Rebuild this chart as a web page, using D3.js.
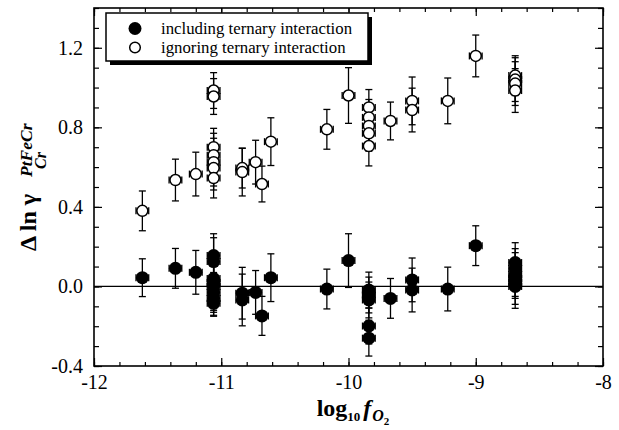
<!DOCTYPE html>
<html>
<head>
<meta charset="utf-8">
<script src="https://cdn.jsdelivr.net/npm/d3@7"></script>
<style>
  html, body { margin: 0; padding: 0; background: #fff; }
  svg { display: block; }
  text { font-family: "Liberation Serif", "Times New Roman", serif; fill: #000; }
</style>
</head>
<body>
<svg id="chart" width="619" height="430"></svg>
<script>
// log10 fO2 and Δ ln γ with ternary interaction included
const incX = [-11.62, -11.36, -11.20,
  -11.06, -11.06, -11.06, -11.06, -11.06, -11.06, -11.06, -11.06,
  -10.835, -10.835, -10.73, -10.68, -10.61, -10.17, -10.0,
  -9.84, -9.84, -9.84, -9.84, -9.84, -9.67, -9.50, -9.50, -9.22, -9.0,
  -8.69, -8.69, -8.69, -8.69, -8.69, -8.69];
const incY = [0.044, 0.091, 0.071,
  0.155, 0.125, 0.04, 0.02, 0.0, -0.03, -0.06, -0.085,
  -0.034, -0.068, -0.03, -0.148, 0.044, -0.013, 0.13,
  -0.018, -0.043, -0.068, -0.199, -0.26, -0.06, 0.033, -0.018, -0.013, 0.205,
  0.12, 0.09, 0.06, 0.04, 0.02, 0.0];
const incErr = [0.095, 0.10, 0.11,
  0.11, 0.12, 0.10, 0.11, 0.12, 0.10, 0.09, 0.06,
  0.13, 0.13, 0.11, 0.098, 0.12, 0.10, 0.135,
  0.09, 0.09, 0.09, 0.09, 0.09, 0.10, 0.11, 0.11, 0.11, 0.10,
  0.10, 0.10, 0.11, 0.10, 0.11, 0.11];

// the same runs with the ternary interaction ignored
const ignX = [-11.62, -11.36, -11.20,
  -11.06, -11.06, -11.06, -11.06, -11.06, -11.06, -11.06,
  -10.835, -10.835, -10.73, -10.68, -10.61, -10.17, -10.0,
  -9.84, -9.84, -9.84, -9.84, -9.84, -9.67, -9.50, -9.50, -9.22, -9.0,
  -8.69, -8.69, -8.69, -8.69];
const ignY = [0.38, 0.535, 0.565,
  0.985, 0.955, 0.70, 0.66, 0.625, 0.595, 0.545,
  0.595, 0.575, 0.625, 0.515, 0.728, 0.79, 0.96,
  0.90, 0.85, 0.807, 0.77, 0.706, 0.832, 0.933, 0.887, 0.933, 1.159,
  1.06, 1.04, 1.02, 0.985];
const ignErr = [0.10, 0.105, 0.11,
  0.09, 0.09, 0.095, 0.11, 0.12, 0.11, 0.10,
  0.10, 0.12, 0.11, 0.09, 0.12, 0.10, 0.14,
  0.09, 0.09, 0.09, 0.09, 0.10, 0.095, 0.12, 0.11, 0.115, 0.105,
  0.10, 0.11, 0.11, 0.11];

const xErr = 0.05;

const xMajor = [-12, -11, -10, -9, -8];
const xTickLabels = ["-12", "-11", "-10", "-9", "-8"];
const yMajor = [-0.4, 0.0, 0.4, 0.8, 1.2];
const yTickLabels = ["-0.4", "0.0", "0.4", "0.8", "1.2"];
const xMinor = d3.range(-12, -7.99, 0.2).map(v => +v.toFixed(1));
const yMinor = d3.range(-0.4, 1.401, 0.1).map(v => +v.toFixed(1));

const legendLabels = ["including ternary interaction", "ignoring ternary interaction"];

const svg = d3.select("#chart");
const L = 94, R = 603, T = 8, B = 366;

const x = d3.scaleLinear().domain([-12, -8]).range([L, R]);
const y = d3.scaleLinear().domain([-0.4, 1.4]).range([B, T]);

// ticks on all four sides, pointing inward
function tickAxis(gen, tx, ty, values, size, labels) {
  const g = svg.append("g").attr("transform", `translate(${tx},${ty})`)
    .call(gen.tickValues(values).tickSize(size).tickPadding(labels ? 7 : 0)
      .tickFormat(labels ? (d, i) => labels[i] : () => ""));
  g.select(".domain").remove();
  g.selectAll(".tick line").attr("stroke", "#000").attr("stroke-width", 1.2);
  g.selectAll(".tick text").attr("font-size", 20)
    .style("font-family", '"Liberation Serif", serif').attr("fill", "#000");
  return g;
}
tickAxis(d3.axisBottom(x), 0, B, xMinor, -4);
tickAxis(d3.axisBottom(x), 0, B, xMajor, -8, xTickLabels)
  .selectAll(".tick text").attr("dy", "0.8em");
tickAxis(d3.axisTop(x), 0, T, xMinor, -4);
tickAxis(d3.axisTop(x), 0, T, xMajor, -8);
tickAxis(d3.axisLeft(y), L, 0, yMinor, -5);
tickAxis(d3.axisLeft(y), L, 0, yMajor, -8, yTickLabels)
  .selectAll(".tick text").attr("dx", "-4");
tickAxis(d3.axisRight(y), R, 0, yMinor, -5);
tickAxis(d3.axisRight(y), R, 0, yMajor, -8);

// zero reference line
svg.append("line")
  .attr("x1", x(-12)).attr("x2", x(-8))
  .attr("y1", y(0)).attr("y2", y(0))
  .attr("stroke", "#000").attr("stroke-width", 1.3);

// frame
svg.append("rect")
  .attr("x", L).attr("y", T).attr("width", R - L).attr("height", B - T)
  .attr("fill", "none").attr("stroke", "#000").attr("stroke-width", 1.6);

const capW = 3.5;
function errorBars(xs, ys, errs) {
  const g = svg.append("g").attr("stroke", "#000").attr("stroke-width", 1.3).attr("fill", "none");
  xs.forEach((xv, i) => {
    const cx = x(xv), y0 = y(ys[i] - errs[i]), y1 = y(ys[i] + errs[i]);
    g.append("line").attr("x1", cx).attr("x2", cx).attr("y1", y0).attr("y2", y1);
    g.append("line").attr("x1", cx - capW).attr("x2", cx + capW).attr("y1", y0).attr("y2", y0);
    g.append("line").attr("x1", cx - capW).attr("x2", cx + capW).attr("y1", y1).attr("y2", y1);
    const cy = y(ys[i]), xa = x(xv - xErr), xb = x(xv + xErr);
    g.append("line").attr("x1", xa).attr("x2", xb).attr("y1", cy).attr("y2", cy);
    g.append("line").attr("x1", xa).attr("x2", xa).attr("y1", cy - capW).attr("y2", cy + capW);
    g.append("line").attr("x1", xb).attr("x2", xb).attr("y1", cy - capW).attr("y2", cy + capW);
  });
}

errorBars(ignX, ignY, ignErr);
errorBars(incX, incY, incErr);

svg.append("g").selectAll("circle").data(ignX).join("circle")
  .attr("cx", d => x(d)).attr("cy", (d, i) => y(ignY[i])).attr("r", 5.5)
  .attr("fill", "#fff").attr("stroke", "#000").attr("stroke-width", 1.5);

svg.append("g").selectAll("circle").data(incX).join("circle")
  .attr("cx", d => x(d)).attr("cy", (d, i) => y(incY[i])).attr("r", 6.5)
  .attr("fill", "#000");

// legend box with drop shadow
const lg = svg.append("g");
lg.append("rect").attr("x", 110).attr("y", 17).attr("width", 262).attr("height", 48).attr("fill", "#000");
lg.append("rect").attr("x", 106).attr("y", 13).attr("width", 262).attr("height", 48)
  .attr("fill", "#fff").attr("stroke", "#000").attr("stroke-width", 1.5);
lg.append("circle").attr("cx", 135).attr("cy", 28.5).attr("r", 6.5).attr("fill", "#000");
lg.append("circle").attr("cx", 135).attr("cy", 47.5).attr("r", 5.3)
  .attr("fill", "#fff").attr("stroke", "#000").attr("stroke-width", 1.5);
lg.selectAll("text.lab").data(legendLabels).join("text").attr("class", "lab")
  .attr("x", 161).attr("y", (d, i) => 33.5 + i * 19)
  .attr("font-size", 16.8).text(d => d);

// x-axis title: log10 fO2
const xt = svg.append("text").attr("x", 353).attr("y", 416)
  .attr("text-anchor", "middle").attr("font-weight", "bold").attr("font-size", 24);
xt.append("tspan").text("log");
xt.append("tspan").attr("font-size", 13).attr("dy", 5).text("10");
xt.append("tspan").attr("font-size", 24).attr("dy", -5).attr("dx", 3).attr("font-style", "italic").text("f");
xt.append("tspan").attr("font-size", 16).attr("dy", 5).attr("dx", 1).attr("font-style", "italic").text("O");
xt.append("tspan").attr("font-size", 11).attr("dy", 4).text("2");

// y-axis title: Δ ln γ with PtFeCr superscript and Cr subscript
const yt = svg.append("g").attr("transform", "translate(36,251) rotate(-90)");
yt.append("text").attr("x", 0).attr("y", 0).attr("font-size", 24).attr("font-weight", "bold")
  .text("Δ ln γ");
yt.append("text").attr("x", 74).attr("y", -4).attr("font-size", 17.5)
  .attr("font-weight", "bold").attr("font-style", "italic").text("PtFeCr");
yt.append("text").attr("x", 82).attr("y", 10).attr("font-size", 16)
  .attr("font-weight", "bold").attr("font-style", "italic").text("Cr");
</script>
</body>
</html>
